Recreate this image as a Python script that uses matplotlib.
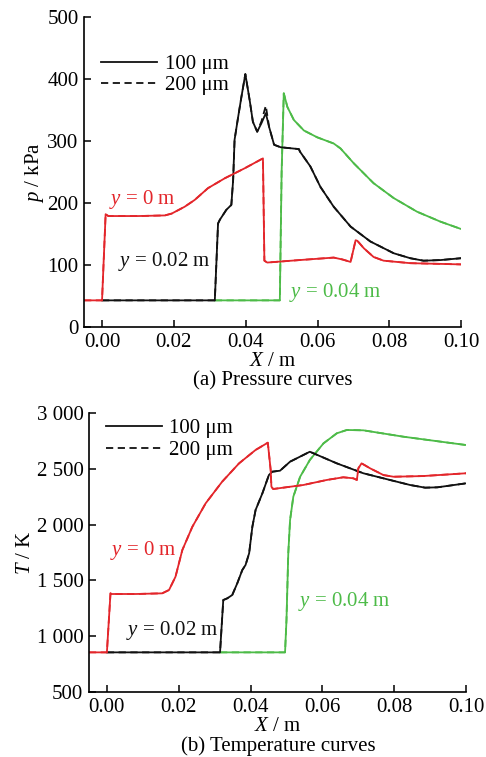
import matplotlib
matplotlib.use("Agg")
import matplotlib.pyplot as plt

plt.rcParams['font.family'] = ['Liberation Serif', 'DejaVu Serif']
plt.rcParams['mathtext.fontset'] = 'custom'
plt.rcParams['mathtext.rm'] = 'Liberation Serif'
plt.rcParams['mathtext.it'] = 'Liberation Serif:italic'

FS = 15
RED = '#e3262b'
BLACK = '#111111'
GREEN = '#4dbb48'

# ---- (a) pressure, kPa ----
p_red_x = [-0.005, 0.0, 0.0010, 0.00175, 0.0100, 0.0175, 0.0194, 0.0230, 0.0258, 0.0295,
           0.0342, 0.0397, 0.0448, 0.0452, 0.0460, 0.0550, 0.0645, 0.0669, 0.0692, 0.0706,
           0.0711, 0.0729, 0.0756, 0.0784, 0.0858, 0.1000]
p_red_y = [43, 43, 182, 179, 179, 180, 183, 194, 205, 224,
           240, 256, 272, 107, 104, 108, 112, 109, 105, 140,
           139, 127, 113, 107, 103, 101]

p_blk_x = [0.0, 0.0314, 0.0323, 0.0328, 0.0346, 0.0360, 0.0365, 0.0369, 0.0379, 0.0388,
           0.0399, 0.0411, 0.0420, 0.0432, 0.0444, 0.0456, 0.0465, 0.0479, 0.0497, 0.0548,
           0.0551, 0.0580, 0.0608, 0.0645, 0.0692, 0.0747, 0.0812, 0.0858, 0.0895, 0.0942,
           0.1000]
p_blk_y = [43, 43, 167, 173, 189, 197, 237, 302, 339, 371,
           408, 366, 331, 315, 329, 345, 323, 294, 290, 287,
           283, 259, 226, 194, 162, 138, 119, 111, 107, 108,
           111]
p_blk_y200 = [43, 43, 167, 173, 189, 197, 237, 302, 339, 371,
              408, 366, 331, 315, 332, 357, 323, 294, 290, 287,
              283, 259, 226, 194, 162, 138, 119, 111, 107, 108,
              111]

p_grn_x = [0.0314, 0.0495, 0.0500, 0.0506, 0.0516, 0.0534, 0.0562, 0.0599, 0.0645, 0.0664,
           0.0701, 0.0756, 0.0812, 0.0877, 0.0942, 0.1000]
p_grn_y = [43, 43, 250, 377, 355, 334, 317, 306, 296, 288,
           264, 232, 208, 186, 170, 158]

# ---- (b) temperature, K ----
t_red_x = [-0.005, 0.0, 0.0010, 0.0013, 0.0080, 0.0154, 0.0173, 0.0191, 0.0210, 0.0238,
           0.0275, 0.0321, 0.0368, 0.0414, 0.0448, 0.0456, 0.0458, 0.0463, 0.0547, 0.0612,
           0.0658, 0.0686, 0.0696, 0.0700, 0.0709, 0.0733, 0.0770, 0.0798, 0.0880, 0.1000]
t_red_y = [855, 855, 1384, 1378, 1378, 1384, 1414, 1533, 1772, 1981,
           2191, 2385, 2549, 2669, 2734, 2489, 2340, 2319, 2355, 2400,
           2424, 2415, 2400, 2504, 2549, 2504, 2444, 2429, 2435, 2460]

t_blk_x = [0.0, 0.0315, 0.0324, 0.0335, 0.0349, 0.0363, 0.0377, 0.0386, 0.0396, 0.0405,
           0.0414, 0.0433, 0.0451, 0.0460, 0.0482, 0.0510, 0.0565, 0.0640, 0.0714, 0.0788,
           0.0844, 0.0886, 0.0920, 0.1000]
t_blk_y = [855, 855, 1324, 1339, 1369, 1474, 1593, 1638, 1743, 1981,
           2131, 2281, 2444, 2474, 2483, 2564, 2653, 2549, 2460, 2400,
           2355, 2331, 2334, 2370]

t_grn_x = [0.0315, 0.0496, 0.0500, 0.0505, 0.0510, 0.0519, 0.0538, 0.0565, 0.0603, 0.0640,
           0.0668, 0.0714, 0.0825, 0.1000]
t_grn_y = [855, 855, 1145, 1743, 2041, 2250, 2429, 2579, 2728, 2818,
           2848, 2845, 2788, 2713]

x_ticks = [0.0, 0.02, 0.04, 0.06, 0.08, 0.10]
x_tick_labels = ['0.00', '0.02', '0.04', '0.06', '0.08', '0.10']
p_ticks = [0, 100, 200, 300, 400, 500]
t_ticks = [500, 1000, 1500, 2000, 2500, 3000]
t_tick_labels = ['500', '1 000', '1 500', '2 000', '2 500', '3 000']

fig = plt.figure(figsize=(4.86, 7.57), dpi=100)
ax1 = fig.add_axes([0.173, 0.568, 0.776, 0.4095])
ax2 = fig.add_axes([0.183, 0.0859, 0.776, 0.3685])

LW = 1.3
DASH = (0, (4, 2.5))

ax1.plot(p_grn_x, p_grn_y, color=GREEN, lw=LW)
ax1.plot(p_grn_x, p_grn_y, color=GREEN, lw=LW, ls=DASH)
ax1.plot(p_blk_x, p_blk_y200, color=BLACK, lw=LW, ls=DASH)
ax1.plot(p_blk_x, p_blk_y, color=BLACK, lw=LW)
ax1.plot(p_red_x, p_red_y, color=RED, lw=LW)
ax1.plot(p_red_x, p_red_y, color=RED, lw=LW, ls=DASH)

ax2.plot(t_grn_x, t_grn_y, color=GREEN, lw=LW)
ax2.plot(t_grn_x, t_grn_y, color=GREEN, lw=LW, ls=DASH)
ax2.plot(t_blk_x, t_blk_y, color=BLACK, lw=LW, ls=DASH)
ax2.plot(t_blk_x, t_blk_y, color=BLACK, lw=LW)
ax2.plot(t_red_x, t_red_y, color=RED, lw=LW)
ax2.plot(t_red_x, t_red_y, color=RED, lw=LW, ls=DASH)

for ax in (ax1, ax2):
    ax.plot([], [], color=BLACK, lw=LW, label='100 μm')
    ax.plot([], [], color=BLACK, lw=LW, ls=DASH, label='200 μm')
    ax.spines['top'].set_visible(False)
    ax.spines['right'].set_visible(False)
    ax.spines['left'].set_linewidth(1.2)
    ax.spines['bottom'].set_linewidth(1.2)
    ax.tick_params(direction='in', length=5, width=1.1, pad=4, labelsize=FS)
    ax.set_xlim(-0.005, 0.10)
    ax.set_xticks(x_ticks)
    ax.set_xticklabels(x_tick_labels)
    ax.set_xlabel('$X$ / m', fontsize=FS, labelpad=0)
    ax.legend(loc='upper left', frameon=False, fontsize=FS, handlelength=2.7,
              handletextpad=0.35, labelspacing=0.1, borderpad=0, borderaxespad=0,
              bbox_to_anchor=(0.045, 0.88 if ax is ax1 else 0.98))

ax1.set_ylim(0, 500)
ax1.set_yticks(p_ticks)
ax1.set_ylabel('$p$ / kPa', fontsize=FS, labelpad=1)
ax1.text(0.002, 205, '$y$ = 0 m', color=RED, fontsize=FS, va='center')
ax1.text(0.0045, 105, '$y$ = 0.02 m', color=BLACK, fontsize=FS, va='center')
ax1.text(0.052, 55, '$y$ = 0.04 m', color=GREEN, fontsize=FS, va='center')

ax2.set_ylim(500, 3000)
ax2.set_yticks(t_ticks)
ax2.set_yticklabels(t_tick_labels)
ax2.set_ylabel('$T$ / K', fontsize=FS, labelpad=1)
ax2.text(0.0009, 1772, '$y$ = 0 m', color=RED, fontsize=FS, va='center')
ax2.text(0.0054, 1054, '$y$ = 0.02 m', color=BLACK, fontsize=FS, va='center')
ax2.text(0.0533, 1308, '$y$ = 0.04 m', color=GREEN, fontsize=FS, va='center')

fig.text(0.562, 1 - 381 / 757, '(a) Pressure curves', ha='center', va='center', fontsize=FS)
fig.text(0.572, 1 - 746 / 757, '(b) Temperature curves', ha='center', va='center', fontsize=FS)

fig.savefig('out.png', dpi=100)
